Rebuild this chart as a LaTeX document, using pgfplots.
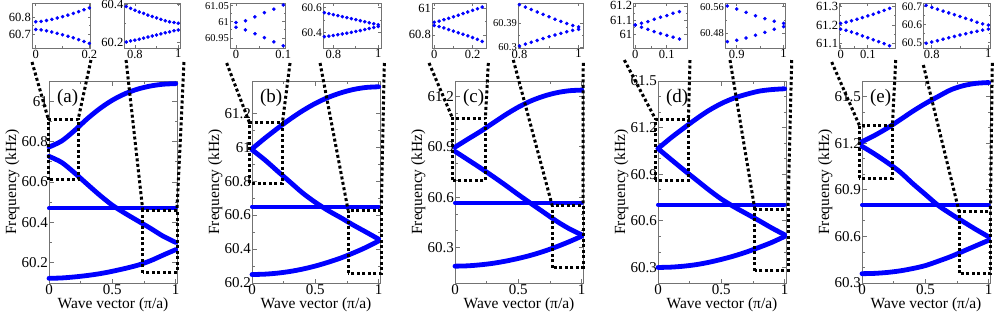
\documentclass[border=0pt]{standalone}
\usepackage{fontspec}
\setmainfont{Liberation Serif}
\usepackage{pgfplots}
\pgfplotsset{compat=1.18}
\newcommand{\fs}[1]{\fontsize{#1}{#1}\selectfont}
\tikzset{conn/.style={draw=black, line width=3pt, dash pattern=on 3pt off 2.5pt}}
\pgfplotsset{
  base/.style={scale only axis, clip=false, anchor=south west,
    axis line style={draw=black!55, line width=0.9pt},
    tick style={draw=black!55, line width=0.8pt},
    tick align=inside,
    /pgf/number format/assume math mode=true, /pgf/number format/fixed},
  mainax/.style={base, width=128pt, height=202pt, xmin=0, xmax=1.01,
    xtick={0,0.5,1}, minor x tick num=1,
    major tick length=4.5pt, minor tick length=2.5pt,
    tick label style={font=\fs{15}}, label style={font=\fs{15.5}},
    xticklabel style={inner sep=1.5pt}, yticklabel style={inner sep=1pt},
    xlabel={Wave vector (π/a)}, ylabel={Frequency (kHz)},
    xlabel style={inner sep=1pt}, ylabel style={inner sep=1pt}},
  inax/.style={base, height=45pt, major tick length=3pt, minor tick length=1.5pt,
    minor tick num=1, tick label style={font=\fs{12.5}},
    xticklabel style={inner sep=1.5pt}, yticklabel style={inner sep=1pt}},
  band/.style={draw=blue, line width=4.8pt, smooth, line cap=round, mark=none},
  flat/.style={draw=blue, line width=4pt, line cap=round, mark=none},
  dots/.style={only marks, mark=*, mark size=1.6pt, draw=blue, fill=blue, mark options={draw=blue, fill=blue}},
}
\begin{document}
\begin{tikzpicture}
\path[use as bounding box] (0pt,0pt) rectangle (996pt,316pt);

% ================= (a) =================
\begin{axis}[mainax, at={(49pt,33pt)}, ymin=60.1, ymax=61.1,
  ytick={60.2,60.4,60.6,60.8,61}, minor y tick num=1]
\addplot[flat] coordinates {(0,60.47) (0.5,60.47) (1,60.47)};
\addplot[band] coordinates {(0,60.123) (0.1,60.125) (0.2,60.13) (0.3,60.137) (0.4,60.146) (0.5,60.158) (0.6,60.172) (0.7,60.188) (0.8,60.21) (0.9,60.238) (1,60.265)};
\addplot[band] coordinates {(0,60.727) (0.1,60.697) (0.2,60.646) (0.3,60.59) (0.4,60.535) (0.5,60.485) (0.6,60.445) (0.7,60.408) (0.8,60.371) (0.9,60.332) (1,60.301)};
\addplot[band] coordinates {(0,60.773) (0.1,60.803) (0.2,60.854) (0.3,60.912) (0.4,60.963) (0.5,61.005) (0.6,61.037) (0.7,61.06) (0.8,61.075) (0.9,61.084) (1,61.087)};
\node[anchor=west, font=\fs{19}] at (rel axis cs:0.035,0.915) {(a)};
\draw[conn] (axis cs:-0.005,60.61) rectangle (axis cs:0.23,60.91);
\draw[conn] (axis cs:-0.134,61.194) -- (axis cs:-0.005,60.91);
\draw[conn] (axis cs:0.331,61.204) -- (axis cs:0.23,60.91);
\draw[conn] (axis cs:0.74,60.15) rectangle (axis cs:1.01,60.46);
\draw[conn] (axis cs:0.608,61.204) -- (axis cs:0.74,60.46);
\draw[conn] (axis cs:1.065,61.194) -- (axis cs:1.01,60.46);
\end{axis}
\begin{axis}[inax, at={(32pt,268pt)}, width=58.7pt, xmin=-0.014, xmax=0.205, ymin=60.619, ymax=60.883,
  xtick={0,0.2}, ytick={60.7,60.8}]
\addplot[dots] coordinates {(0,60.773)(0.02,60.775)(0.04,60.78)(0.06,60.787)(0.08,60.795)(0.1,60.803)(0.12,60.812)(0.14,60.822)(0.16,60.832)(0.18,60.843)(0.2,60.854)};
\addplot[dots] coordinates {(0,60.727)(0.02,60.725)(0.04,60.72)(0.06,60.713)(0.08,60.705)(0.1,60.697)(0.12,60.688)(0.14,60.679)(0.16,60.668)(0.18,60.657)(0.2,60.646)};
\end{axis}
\begin{axis}[inax, at={(124.5pt,268pt)}, width=55.5pt, xmin=0.752, xmax=1.008, ymin=60.168, ymax=60.41,
  xtick={0.8,1}, ytick={60.2,60.4}]
\addplot[dots] coordinates {(0.76,60.391)(0.78,60.381)(0.8,60.371)(0.82,60.362)(0.84,60.354)(0.86,60.345)(0.88,60.337)(0.9,60.330)(0.92,60.322)(0.94,60.314)(0.96,60.309)(0.98,60.305)(1,60.301)};
\addplot[dots] coordinates {(0.76,60.2)(0.78,60.206)(0.8,60.21)(0.82,60.215)(0.84,60.221)(0.86,60.227)(0.88,60.232)(0.9,60.238)(0.92,60.244)(0.94,60.25)(0.96,60.255)(0.98,60.261)(1,60.265)};
\end{axis}

% ================= (b) =================
\begin{axis}[mainax, at={(252pt,33pt)}, ymin=60.2, ymax=61.39,
  ytick={60.2,60.4,60.6,60.8,61,61.2}, minor y tick num=1]
\addplot[flat] coordinates {(0,60.65) (0.5,60.65) (1,60.65)};
\addplot[band] coordinates {(0,60.25) (0.1,60.252) (0.2,60.258) (0.3,60.268) (0.4,60.282) (0.5,60.3) (0.6,60.322) (0.7,60.347) (0.8,60.377) (0.9,60.41) (1,60.448)};
\addplot[band] coordinates {(0,60.985) (0.1,60.926) (0.2,60.86) (0.3,60.795) (0.4,60.73) (0.5,60.675) (0.6,60.627) (0.7,60.585) (0.8,60.541) (0.9,60.5) (1,60.458)};
\addplot[band] coordinates {(0,60.99) (0.1,61.052) (0.2,61.11) (0.3,61.165) (0.4,61.215) (0.5,61.258) (0.6,61.293) (0.7,61.32) (0.8,61.34) (0.9,61.352) (1,61.356)};
\node[anchor=west, font=\fs{19}] at (rel axis cs:0.035,0.915) {(b)};
\draw[conn] (axis cs:-0.02,60.787) rectangle (axis cs:0.24,61.144);
\draw[conn] (axis cs:-0.2,61.496) -- (axis cs:-0.02,61.144);
\draw[conn] (axis cs:0.30,61.496) -- (axis cs:0.24,61.144);
\draw[conn] (axis cs:0.758,60.256) rectangle (axis cs:1.02,60.63);
\draw[conn] (axis cs:0.537,61.496) -- (axis cs:0.758,60.63);
\draw[conn] (axis cs:1.044,61.496) -- (axis cs:1.02,60.63);
\end{axis}
\begin{axis}[inax, at={(230pt,268pt)}, width=55pt, xmin=-0.0127, xmax=0.1036, ymin=60.919, ymax=61.058,
  xtick={0,0.1}, ytick={60.95,61,61.05}, yticklabel style={font=\fs{10.5}}]
\addplot[dots] coordinates {(0,60.998)(0.02,61.003)(0.04,61.015)(0.06,61.028)(0.08,61.039)(0.1,61.052)};
\addplot[dots] coordinates {(0,60.983)(0.02,60.975)(0.04,60.963)(0.06,60.951)(0.08,60.938)(0.1,60.926)};
\end{axis}
\begin{axis}[inax, at={(323pt,268pt)}, width=58pt, xmin=0.754, xmax=1.012, ymin=60.278, ymax=60.634,
  xtick={0.8,1}, ytick={60.4,60.6}, yticklabel style={font=\fs{11.5}}]
\addplot[dots] coordinates {(0.76,60.558)(0.78,60.550)(0.8,60.542)(0.82,60.534)(0.84,60.526)(0.86,60.518)(0.88,60.510)(0.9,60.502)(0.92,60.494)(0.94,60.486)(0.96,60.478)(0.98,60.470)(1,60.462)};
\addplot[dots] coordinates {(0.76,60.368)(0.78,60.372)(0.8,60.377)(0.82,60.383)(0.84,60.389)(0.86,60.395)(0.88,60.402)(0.9,60.409)(0.92,60.416)(0.94,60.424)(0.96,60.432)(0.98,60.440)(1,60.448)};
\end{axis}

% ================= (c) =================
\begin{axis}[mainax, at={(455pt,33pt)}, ymin=60.09, ymax=61.29,
  ytick={60.3,60.6,60.9,61.2}, minor y tick num=2]
\addplot[flat] coordinates {(0,60.566) (0.5,60.566) (1,60.566)};
\addplot[band] coordinates {(0,60.19) (0.1,60.192) (0.2,60.198) (0.3,60.207) (0.4,60.22) (0.5,60.236) (0.6,60.255) (0.7,60.278) (0.8,60.305) (0.9,60.335) (1,60.368)};
\addplot[band] coordinates {(0,60.872) (0.1,60.823) (0.2,60.774) (0.3,60.723) (0.4,60.67) (0.5,60.615) (0.6,60.562) (0.7,60.51) (0.8,60.458) (0.9,60.413) (1,60.376)};
\addplot[band] coordinates {(0,60.897) (0.1,60.944) (0.2,60.99) (0.3,61.04) (0.4,61.09) (0.5,61.135) (0.6,61.172) (0.7,61.2) (0.8,61.22) (0.9,61.232) (1,61.236)};
\node[anchor=west, font=\fs{19}] at (rel axis cs:0.035,0.915) {(c)};
\draw[conn] (axis cs:-0.02,60.70) rectangle (axis cs:0.24,61.07);
\draw[conn] (axis cs:-0.205,61.397) -- (axis cs:-0.02,61.07);
\draw[conn] (axis cs:0.263,61.397) -- (axis cs:0.24,61.07);
\draw[conn] (axis cs:0.767,60.18) rectangle (axis cs:1.01,60.55);
\draw[conn] (axis cs:0.46,61.415) -- (axis cs:0.767,60.55);
\draw[conn] (axis cs:1.012,61.397) -- (axis cs:1.01,60.55);
\end{axis}
\begin{axis}[inax, at={(432pt,268pt)}, width=54pt, xmin=-0.012, xmax=0.27, ymin=60.70, ymax=61.044,
  xtick={0,0.2}, ytick={60.8,61}]
\addplot[dots] coordinates {(0,60.897)(0.025,60.905)(0.05,60.916)(0.075,60.927)(0.1,60.939)(0.125,60.951)(0.15,60.963)(0.175,60.975)(0.2,60.988)(0.225,61.0)(0.25,61.013)};
\addplot[dots] coordinates {(0,60.872)(0.025,60.864)(0.05,60.853)(0.075,60.841)(0.1,60.829)(0.125,60.817)(0.15,60.805)(0.175,60.793)(0.2,60.78)(0.225,60.766)(0.25,60.75)};
\end{axis}
\begin{axis}[inax, at={(518pt,268pt)}, width=65pt, xmin=0.795, xmax=1.015, ymin=60.298, ymax=60.464,
  xtick={0.8,1}, ytick={60.3,60.39}, yticklabel style={font=\fs{10.5}}]
\addplot[dots] coordinates {(0.8,60.458)(0.82,60.449)(0.84,60.440)(0.86,60.431)(0.88,60.422)(0.9,60.413)(0.92,60.404)(0.94,60.396)(0.96,60.388)(0.98,60.381)(1,60.376)};
\addplot[dots] coordinates {(0.8,60.305)(0.82,60.312)(0.84,60.319)(0.86,60.326)(0.88,60.333)(0.9,60.340)(0.92,60.346)(0.94,60.352)(0.96,60.358)(0.98,60.363)(1,60.367)};
\end{axis}

% ================= (d) =================
\begin{axis}[mainax, at={(658pt,33pt)}, ymin=60.2, ymax=61.5,
  ytick={60.3,60.6,60.9,61.2,61.5}, minor y tick num=2]
\addplot[flat] coordinates {(0,60.705) (0.5,60.705) (1,60.705)};
\addplot[band] coordinates {(0,60.3) (0.1,60.302) (0.2,60.308) (0.3,60.318) (0.4,60.333) (0.5,60.352) (0.6,60.374) (0.7,60.4) (0.8,60.43) (0.9,60.462) (1,60.5)};
\addplot[band] coordinates {(0,61.065) (0.1,60.997) (0.2,60.93) (0.3,60.865) (0.4,60.8) (0.5,60.74) (0.6,60.69) (0.7,60.645) (0.8,60.6) (0.9,60.553) (1,60.51)};
\addplot[band] coordinates {(0,61.065) (0.1,61.133) (0.2,61.195) (0.3,61.255) (0.4,61.31) (0.5,61.355) (0.6,61.39) (0.7,61.415) (0.8,61.435) (0.9,61.445) (1,61.45)};
\node[anchor=west, font=\fs{19}] at (rel axis cs:0.035,0.915) {(d)};
\draw[conn] (axis cs:-0.02,60.862) rectangle (axis cs:0.24,61.255);
\draw[conn] (axis cs:-0.266,61.635) -- (axis cs:-0.02,61.255);
\draw[conn] (axis cs:0.2525,61.635) -- (axis cs:0.24,61.255);
\draw[conn] (axis cs:0.764,60.28) rectangle (axis cs:1.026,60.675);
\draw[conn] (axis cs:0.568,61.635) -- (axis cs:0.764,60.675);
\draw[conn] (axis cs:1.055,61.635) -- (axis cs:1.026,60.675);
\end{axis}
\begin{axis}[inax, at={(633.3pt,268pt)}, width=54pt, xmin=-0.006, xmax=0.165, ymin=60.9, ymax=61.221,
  xtick={0,0.1}, ytick={61,61.1,61.2}]
\addplot[dots] coordinates {(0,61.064)(0.02,61.076)(0.04,61.088)(0.06,61.105)(0.08,61.119)(0.1,61.131)(0.12,61.148)(0.14,61.159)};
\addplot[dots] coordinates {(0,61.064)(0.02,61.048)(0.04,61.033)(0.06,61.017)(0.08,61.003)(0.1,60.99)(0.12,60.977)(0.14,60.964)};
\end{axis}
\begin{axis}[inax, at={(725pt,268pt)}, width=60pt, xmin=0.875, xmax=1.003, ymin=60.436, ymax=60.571,
  xtick={0.9,1}, ytick={60.48,60.56}, yticklabel style={font=\fs{10.5}}]
\addplot[dots] coordinates {(0.88,60.562)(0.9,60.553)(0.92,60.543)(0.94,60.533)(0.96,60.524)(0.98,60.516)(1,60.510)};
\addplot[dots] coordinates {(0.88,60.455)(0.9,60.459)(0.92,60.466)(0.94,60.474)(0.96,60.483)(0.98,60.492)(1,60.500)};
\end{axis}

% ================= (e) =================
\begin{axis}[mainax, at={(862pt,33pt)}, ymin=60.3, ymax=61.6,
  ytick={60.3,60.6,60.9,61.2,61.5}, minor y tick num=2]
\addplot[flat] coordinates {(0,60.802) (0.5,60.802) (1,60.802)};
\addplot[band] coordinates {(0,60.36) (0.1,60.362) (0.2,60.368) (0.3,60.378) (0.4,60.393) (0.5,60.412) (0.6,60.44) (0.7,60.47) (0.8,60.505) (0.9,60.54) (1,60.575)};
\addplot[band] coordinates {(0,61.18) (0.1,61.13) (0.2,61.075) (0.3,61.015) (0.4,60.94) (0.5,60.87) (0.6,60.8) (0.7,60.745) (0.8,60.694) (0.9,60.644) (1,60.597)};
\addplot[band] coordinates {(0,61.209) (0.1,61.25) (0.2,61.297) (0.3,61.35) (0.4,61.405) (0.5,61.455) (0.6,61.5) (0.7,61.543) (0.8,61.57) (0.9,61.585) (1,61.59)};
\node[anchor=west, font=\fs{19}] at (rel axis cs:0.035,0.915) {(e)};
\draw[conn] (axis cs:-0.02,60.975) rectangle (axis cs:0.24,61.313);
\draw[conn] (axis cs:-0.239,61.722) -- (axis cs:-0.02,61.313);
\draw[conn] (axis cs:0.266,61.735) -- (axis cs:0.24,61.313);
\draw[conn] (axis cs:0.766,60.363) rectangle (axis cs:1.013,60.76);
\draw[conn] (axis cs:0.484,61.703) -- (axis cs:0.766,60.76);
\draw[conn] (axis cs:1.028,61.716) -- (axis cs:1.013,60.76);
\end{axis}
\begin{axis}[inax, at={(839.3pt,268pt)}, width=55.7pt, xmin=-0.005, xmax=0.2, ymin=61.077, ymax=61.318,
  xtick={0,0.1}, ytick={61.1,61.2,61.3}]
\addplot[dots] coordinates {(0,61.209)(0.02,61.215)(0.04,61.223)(0.06,61.231)(0.08,61.240)(0.1,61.249)(0.12,61.258)(0.14,61.268)(0.16,61.278)(0.18,61.289)};
\addplot[dots] coordinates {(0,61.178)(0.02,61.172)(0.04,61.163)(0.06,61.153)(0.08,61.142)(0.1,61.132)(0.12,61.121)(0.14,61.111)(0.16,61.100)(0.18,61.089)};
\end{axis}
\begin{axis}[inax, at={(923.3pt,268pt)}, width=67.4pt, xmin=0.77, xmax=1.0085, ymin=60.472, ymax=60.718,
  xtick={0.8,1}, ytick={60.5,60.6,60.7}, yticklabel style={font=\fs{11.5}}]
\addplot[dots] coordinates {(0.78,60.705)(0.8,60.694)(0.82,60.684)(0.84,60.674)(0.86,60.664)(0.88,60.654)(0.9,60.644)(0.92,60.634)(0.94,60.624)(0.96,60.613)(0.98,60.604)(1,60.597)};
\addplot[dots] coordinates {(0.78,60.498)(0.8,60.505)(0.82,60.512)(0.84,60.520)(0.86,60.528)(0.88,60.535)(0.9,60.543)(0.92,60.550)(0.94,60.557)(0.96,60.564)(0.98,60.570)(1,60.575)};
\end{axis}
\end{tikzpicture}
\end{document}
